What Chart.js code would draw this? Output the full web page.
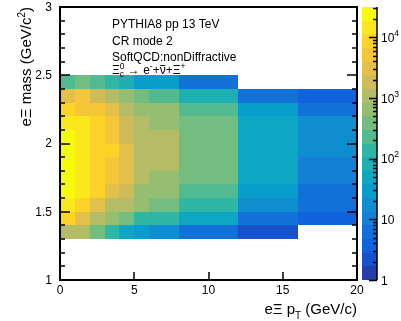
<!DOCTYPE html>
<html><head><meta charset="utf-8">
<script src="https://cdn.jsdelivr.net/npm/chart.js@4.4.0/dist/chart.umd.min.js"></script>
<style>html,body{margin:0;padding:0;background:#fff;}#wrap{width:401px;height:321px;}</style>
</head><body><div id="wrap"><canvas id="c" width="401" height="321" style="width:401px;height:321px"></canvas></div>
<script>
// ---- data ----
const ptEdges = [0, 1, 2, 3, 4, 5, 6, 8, 12, 16, 20];
const massEdges = [1.3, 1.4, 1.5, 1.6, 1.7, 1.8, 1.9, 2.0, 2.1, 2.2, 2.3, 2.4, 2.5];
// counts per mass bin (one value per pT bin), bottom to top
const m130 = [1120, 1050, 372, 141, 47, 28, 17, 6, 2, null];
const m140 = [8650, 3080, 1100, 650, 390, 142, 131, 48, 6, 4];
const m150 = [14500, 8900, 3010, 1120, 1050, 640, 380, 138, 17, 6];
const m160 = [24600, 14800, 8700, 3150, 1850, 660, 620, 235, 29, 6];
const m170 = [25300, 15100, 8800, 5200, 3060, 1100, 700, 395, 48, 10];
const m180 = [25800, 14900, 8750, 5100, 3120, 1130, 1060, 400, 50, 10];
const m190 = [25500, 15000, 8600, 8300, 3100, 1150, 1080, 410, 51, 16];
const m200 = [24800, 14700, 8500, 5300, 2000, 1140, 1070, 400, 50, 17];
const m210 = [16200, 13900, 8400, 5100, 1850, 1060, 700, 380, 47, 17];
const m220 = [8800, 5300, 4900, 3000, 1080, 660, 640, 240, 30, 6];
const m230 = [3100, 5000, 1800, 1080, 630, 380, 235, 80, 6, 4];
const m240 = [230, 380, 225, 135, 80, 30, 28, 6, null, null];
const counts = [m130, m140, m150, m160, m170, m180, m190, m200, m210, m220, m230, m240];

const xTicks = [0, 5, 10, 15, 20];
const xTickLabels = ['0', '5', '10', '15', '20'];
const yTicks = [1, 1.5, 2, 2.5, 3];
const yTickLabels = ['1', '1.5', '2', '2.5', '3'];
const zTicks = [1, 10, 100, 1000, 10000];
const zTickLabels = [['1', ''], ['10', ''], ['10', '2'], ['10', '3'], ['10', '4']];
const zMin = 1, zMax = 31623;
const infoLines = ['PYTHIA8 pp 13 TeV', 'CR mode 2', 'SoftQCD:nonDiffractive'];

// ---- palette (ROOT kBird, 20 contours) ----
const NCONT = 20;
function birdColor(f) {
  const st = [0, 0.125, 0.25, 0.375, 0.5, 0.625, 0.75, 0.875, 1];
  const R = [0.2082, 0.0592, 0.0780, 0.0232, 0.1802, 0.5301, 0.8186, 0.9956, 0.9764];
  const G = [0.1664, 0.3599, 0.5041, 0.6419, 0.7178, 0.7492, 0.7328, 0.7862, 0.9832];
  const B = [0.5293, 0.8684, 0.8385, 0.7914, 0.6425, 0.4662, 0.3499, 0.1968, 0.0539];
  let k = 0; while (k < 7 && f > st[k + 1]) k++;
  const t = (f - st[k]) / (st[k + 1] - st[k]);
  const c = a => Math.round(255 * (a[k] + (a[k + 1] - a[k]) * t));
  return 'rgb(' + c(R) + ',' + c(G) + ',' + c(B) + ')';
}
function bandColor(b) { const idx = Math.min(254, Math.floor((b + 0.99) * 255 / NCONT)); return birdColor(idx / 254); }
function bandOf(v) {
  const lmin = Math.log10(zMin), lmax = Math.log10(zMax);
  let b = Math.floor((Math.log10(v) - lmin) / (lmax - lmin) * NCONT);
  return Math.max(0, Math.min(NCONT - 1, b));
}

const FONT = "'Liberation Sans', Arial, Helvetica, sans-serif";
function fnt(s) { return s + 'px ' + FONT; }
function partW(ctx, p) {
  if (p.stack) { return Math.max(...p.stack.map(q => { ctx.font = fnt(q.s); return ctx.measureText(q.t).width; })); }
  ctx.font = fnt(p.s); return ctx.measureText(p.t).width;
}
function richW(ctx, parts) { return parts.reduce((a, p) => a + partW(ctx, p), 0); }
function drawRich(ctx, x, y, parts) {
  ctx.textAlign = 'left'; ctx.textBaseline = 'alphabetic';
  for (const p of parts) {
    const w = partW(ctx, p);
    if (p.stack) { for (const q of p.stack) { ctx.font = fnt(q.s); ctx.fillText(q.t, x, y + (q.dy || 0)); } }
    else {
      ctx.font = fnt(p.s); ctx.fillText(p.t, x, y + (p.dy || 0));
      if (p.bar) { ctx.save(); ctx.lineWidth = 0.9; ctx.beginPath(); ctx.moveTo(x + 0.5, y - p.bar); ctx.lineTo(x + w - 0.5, y - p.bar); ctx.stroke(); ctx.restore(); }
    }
    x += w;
  }
}

const heatPlugin = {
  id: 'heat',
  beforeDatasetsDraw(chart) {
    const ctx = chart.ctx, xs = chart.scales.x, ys = chart.scales.y;
    ctx.save();
    for (let j = 0; j < counts.length; j++) {
      for (let i = 0; i < ptEdges.length - 1; i++) {
        const v = counts[j][i];
        if (v == null || v <= 0) continue;
        const x0 = Math.round(xs.getPixelForValue(ptEdges[i])), x1 = Math.round(xs.getPixelForValue(ptEdges[i + 1]));
        const y0 = Math.round(ys.getPixelForValue(massEdges[j + 1])), y1 = Math.round(ys.getPixelForValue(massEdges[j]));
        ctx.fillStyle = bandColor(bandOf(v));
        ctx.fillRect(x0, y0, x1 - x0, y1 - y0);
      }
    }
    ctx.restore();
  },
  afterDraw(chart) {
    const ctx = chart.ctx, xs = chart.scales.x, ys = chart.scales.y, zs = chart.scales.z;
    const a = chart.chartArea, L = a.left, R = a.right, T = a.top, Bt = a.bottom;
    ctx.save();
    ctx.fillStyle = '#000'; ctx.strokeStyle = '#000';
    // info text
    ctx.font = fnt(12); ctx.textAlign = 'left'; ctx.textBaseline = 'alphabetic';
    const tx = 112, tys = [28, 45, 61];
    infoLines.forEach((s, k) => ctx.fillText(s, tx, tys[k]));
    drawRich(ctx, tx, 74, [
      { t: 'Ξ', s: 12 },
      { stack: [{ t: 'c', s: 8.5, dy: 3 }, { t: '0', s: 8.5, dy: -5 }] },
      { t: ' → ', s: 12 },
      { t: 'e', s: 12 }, { t: '-', s: 8.5, dy: -5 },
      { t: '+', s: 12 },
      { t: 'ν', s: 12, bar: 8.5 },
      { t: '+', s: 12 },
      { t: 'Ξ', s: 12 }, { t: '+', s: 8.5, dy: -5 }
    ]);
    // frame
    ctx.lineWidth = 2;
    ctx.strokeRect(L, T, R - L, Bt - T);
    // ticks
    ctx.lineWidth = 1.5;
    ctx.beginPath();
    for (let k = 0; k <= 20; k++) {
      const v = 1 + k * 0.1;
      const py = Math.round(ys.getPixelForValue(v));
      const len = (k % 5 === 0) ? 10 : 5;
      ctx.moveTo(L, py); ctx.lineTo(L + len, py);
      ctx.moveTo(R, py); ctx.lineTo(R - len, py);
    }
    for (const v of xTicks) {
      const px = Math.round(xs.getPixelForValue(v));
      ctx.moveTo(px, Bt); ctx.lineTo(px, Bt - 8);
    }
    ctx.stroke();
    // tick labels
    ctx.font = fnt(12);
    ctx.textAlign = 'right'; ctx.textBaseline = 'middle';
    yTicks.forEach((v, k) => ctx.fillText(yTickLabels[k], 52, ys.getPixelForValue(v) + 0.5));
    ctx.textAlign = 'center'; ctx.textBaseline = 'alphabetic';
    xTicks.forEach((v, k) => ctx.fillText(xTickLabels[k], xs.getPixelForValue(v), 294));
    // axis titles
    const xt = [{ t: 'eΞ p', s: 15 }, { t: 'T', s: 10, dy: 5 }, { t: ' (GeV/c)', s: 15 }];
    drawRich(ctx, R - richW(ctx, xt), 314, xt);
    const yt = [{ t: 'eΞ mass (GeV/c', s: 15 }, { t: '2', s: 10, dy: -6 }, { t: ')', s: 15 }];
    ctx.save(); ctx.translate(31, T); ctx.rotate(-Math.PI / 2);
    drawRich(ctx, -richW(ctx, yt), 0, yt);
    ctx.restore();
    // color bar
    const cbL = 362, cbR = 377;
    const lmin = Math.log10(zMin), lmax = Math.log10(zMax);
    for (let b = 0; b < NCONT; b++) {
      const lo = Math.pow(10, lmin + (lmax - lmin) * b / NCONT), hi = Math.pow(10, lmin + (lmax - lmin) * (b + 1) / NCONT);
      const yb = Math.round(zs.getPixelForValue(lo)), yt2 = Math.round(zs.getPixelForValue(hi));
      ctx.fillStyle = bandColor(b);
      ctx.fillRect(cbL, yt2, cbR - cbL, yb - yt2);
    }
    ctx.fillStyle = '#000';
    ctx.lineWidth = 1.5;
    ctx.beginPath();
    ctx.moveTo(cbR, Math.round(zs.getPixelForValue(zMax))); ctx.lineTo(cbR, Math.round(zs.getPixelForValue(zMin)));
    for (let d = 0; d <= 4; d++) {
      for (let m = 1; m <= 9; m++) {
        const v = m * Math.pow(10, d);
        if (v > zMax) break;
        const py = Math.round(zs.getPixelForValue(v)) + 0.5;
        const len = m === 1 ? 8 : 4;
        ctx.moveTo(cbR, py); ctx.lineTo(cbR - len, py);
      }
    }
    ctx.stroke();
    zTicks.forEach((v, k) => {
      const py = zs.getPixelForValue(v);
      const parts = [{ t: zTickLabels[k][0], s: 12 }];
      if (zTickLabels[k][1]) parts.push({ t: zTickLabels[k][1], s: 8.5, dy: -6 });
      drawRich(ctx, 381, py + 4.5, parts);
    });
    ctx.restore();
  }
};

const cellPoints = [];
counts.forEach((row, j) => row.forEach((v, i) => { if (v != null) cellPoints.push({ x: (ptEdges[i] + ptEdges[i + 1]) / 2, y: (massEdges[j] + massEdges[j + 1]) / 2, v: v }); }));

new Chart(document.getElementById('c'), {
  type: 'scatter',
  data: { datasets: [{ data: cellPoints, pointRadius: 0, pointHoverRadius: 0 }] },
  options: {
    responsive: false, animation: false, events: [],
    layout: { padding: { left: 60, right: 44, top: 7, bottom: 41 } },
    plugins: { legend: { display: false }, tooltip: { enabled: false } },
    scales: {
      x: { type: 'linear', min: 0, max: 20, display: false },
      y: { type: 'linear', min: 1, max: 3, display: false },
      z: { type: 'logarithmic', axis: 'y', position: 'right', min: zMin, max: zMax, display: false }
    }
  },
  plugins: [heatPlugin]
});
</script></body></html>
